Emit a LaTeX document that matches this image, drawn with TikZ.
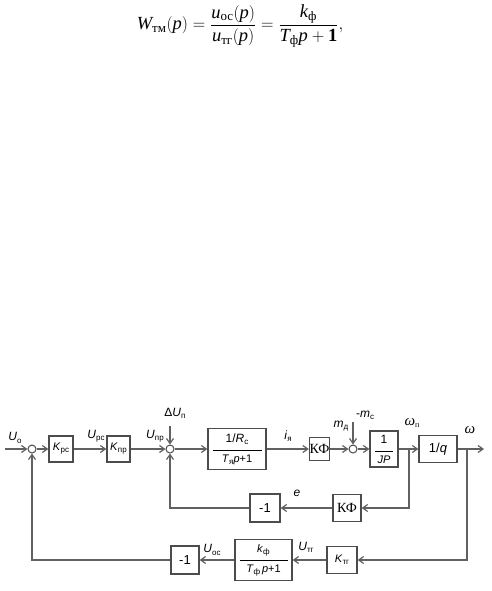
\documentclass[tikz,border=0pt]{standalone}
\usepackage{fontspec}
\setmainfont{Liberation Serif}
\setsansfont{Liberation Sans}
\usepackage{amsmath}
\usetikzlibrary{arrows.meta}
\newcommand{\sbs}[1]{\raisebox{-0.35ex}{\fontsize{8}{9}\selectfont #1}}
\begin{document}
\begin{tikzpicture}[x=1pt,y=-1pt,
 ln/.style={draw=black!62, line width=1.2pt},
 arr/.style={ln, -{Straight Barb[length=5pt,width=7pt]}},
 blk/.style={draw=black!70, line width=1.3pt, fill=white, inner sep=0pt, font=\sffamily\fontsize{11}{12}\selectfont},
 sj/.style={circle, draw=black!70, line width=1pt, fill=white, minimum size=8pt, inner sep=0pt},
 lbl/.style={inner sep=0pt, font=\sffamily\fontsize{12}{13}\selectfont}]
\useasboundingbox (0,0) rectangle (491,591);

% formula
\node[inner sep=0pt] (eq) at (240,26) {\fontsize{18.5}{21}\selectfont
 $\textit{W}_{\text{тм}}(\textit{p})=\dfrac{\textit{u}_{\text{ос}}(\textit{p})}{\textit{u}_{\text{тг}}(\textit{p})}=\dfrac{\textit{k}_{\text{ф}}}{\textit{T}_{\text{ф}}\textit{p}+\textbf{1}},$};

% forward path
\coordinate (in) at (5,449);
\node[sj] (s1) at (32,449) {};
\node[blk, minimum width=24pt, minimum height=26pt] (kpc) at (61,449) {\textit{K}\sbs{рс}};
\node[blk, minimum width=23pt, minimum height=26pt] (kpr) at (118.5,449) {\textit{K}\sbs{пр}};
\node[sj] (s2) at (170,449) {};
\node[blk, minimum width=58pt, minimum height=41pt, align=center] (rc) at (237,449)
 {\fontsize{12}{12}\selectfont 1/\textit{R}\sbs{с}\\[-3pt]\rule{49pt}{0.8pt}\\[-1pt]\textit{T}\sbs{я}\textit{p}+1};
\node[blk, minimum width=20pt, minimum height=23pt, font=\rmfamily\fontsize{14}{15}\selectfont] (kf1) at (319.5,449) {КФ};
\node[sj] (s3) at (353,449) {};
\node[blk, minimum width=28pt, minimum height=36pt, align=center] (jp) at (384,449)
 {\fontsize{12}{12}\selectfont 1\\[-3pt]\rule{18pt}{0.8pt}\\[-1pt]\textit{JP}};
\coordinate (b1) at (409,449);
\node[blk, minimum width=38pt, minimum height=27pt, font=\sffamily\fontsize{13}{14}\selectfont] (q) at (438,449) {1/\textit{q}};
\coordinate (b2) at (467,449);
\coordinate (out) at (484,449);
\coordinate (du) at (170,426);
\coordinate (mc) at (353,422);

% feedback 1
\node[blk, minimum width=28pt, minimum height=27pt, font=\rmfamily\fontsize{14}{15}\selectfont] (kf2) at (347,508) {КФ};
\node[blk, minimum width=30pt, minimum height=28pt, font=\sffamily\fontsize{13}{14}\selectfont] (m1e) at (265,508) {-1};

% feedback 2
\node[blk, minimum width=30pt, minimum height=27pt] (ktg) at (342,560) {\textit{K}\sbs{тг}};
\node[blk, minimum width=57pt, minimum height=41pt, align=center] (kf) at (263.5,560)
 {\textit{k}\sbs{ф}\\[-3pt]\rule{48pt}{0.8pt}\\[-1pt]\textit{T}\sbs{ф}\,\textit{p}+1};
\node[blk, minimum width=28pt, minimum height=28pt, font=\sffamily\fontsize{13}{14}\selectfont] (m1b) at (185,560) {-1};

% labels
\node[lbl] (lUo) at (15,438) {\textit{U}\sbs{о}};
\node[lbl] (lUpc) at (96,436) {\textit{U}\sbs{рс}};
\node[lbl] (lUpr) at (155,436) {\textit{U}\sbs{пр}};
\node[lbl] (ldU) at (175,413) {Δ\textit{U}\sbs{п}};
\node[lbl] (lia) at (288,436) {\textit{i}\sbs{я}};
\node[lbl] (lmd) at (341,426) {\textit{m}\sbs{д}};
\node[lbl] (lmc) at (365,415) {-\textit{m}\sbs{с}};
\node[lbl, font=\rmfamily\fontsize{15}{16}\selectfont] (lwp) at (412,423) {\textit{ω}\sbs{п}};
\node[lbl, font=\rmfamily\fontsize{15}{16}\selectfont] (lw) at (470,430) {\textit{ω}};
\node[lbl] (le) at (297,493) {\textit{e}};
\node[lbl] (lUtg) at (306,547) {\textit{U}\sbs{тг}};
\node[lbl] (lUoc) at (212,550) {\textit{U}\sbs{ос}};

% connectors
\draw[arr] (in) -- (s1);
\draw[arr] (s1) -- (kpc);
\draw[arr] (kpc) -- (kpr);
\draw[arr] (kpr) -- (s2);
\draw[arr] (s2) -- (rc);
\draw[arr] (rc) -- (kf1);
\draw[arr] (kf1) -- (s3);
\draw[arr] (s3) -- (jp);
\draw[arr] (jp) -- (q);
\draw[arr] (q) -- (out);
\draw[arr] (du) -- (s2);
\draw[arr] (mc) -- (s3);
\draw[arr] (b1) |- (kf2);
\draw[arr] (kf2) -- (m1e);
\draw[arr] (m1e) -| (s2);
\draw[arr] (b2) |- (ktg);
\draw[arr] (ktg) -- (kf);
\draw[arr] (kf) -- (m1b);
\draw[arr] (m1b) -| (s1);
\end{tikzpicture}
\end{document}
